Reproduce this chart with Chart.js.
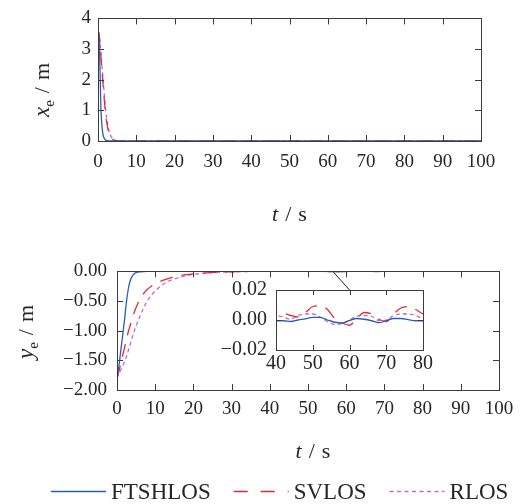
<!DOCTYPE html>
<html>
<head>
<meta charset="utf-8">
<script src="https://cdn.jsdelivr.net/npm/chart.js@4/dist/chart.umd.min.js"></script>
<style>
  html, body { margin: 0; padding: 0; background: #fff; }
  #wrap { position: relative; width: 523px; height: 504px; overflow: hidden; background: #fff; }
  canvas { position: absolute; }
</style>
</head>
<body>
<div id="wrap">
  <canvas id="cx" width="523" height="250" style="left:0;top:0;width:523px;height:250px"></canvas>
  <canvas id="cy" width="523" height="254" style="left:0;top:250px;width:523px;height:254px"></canvas>
  <canvas id="ci" width="240" height="130" style="left:200px;top:255px;width:240px;height:130px"></canvas>
</div>
<script>
// ---- longitudinal error x_e (m) ----
const tX = [0, 0.25, 0.5, 0.75, 1, 1.25, 1.5, 2, 2.5, 3, 3.5, 4, 5, 6, 8, 10, 20, 30, 40, 50, 60, 70, 80, 90, 100];
const xeFTSHLOS = [3.6, 3.4, 2.45, 1.1, 0.55, 0.25, 0.12, 0.03, 0.008, 0.002, 0, 0, 0, 0, 0, 0, 0, 0, 0, 0, 0, 0, 0, 0, 0];
const xeSVLOS   = [3.6, 3.5, 3.2, 2.8, 2.38, 1.95, 1.55, 0.85, 0.45, 0.22, 0.09, 0.035, 0.005, 0, 0, 0, 0, 0, 0, 0, 0, 0, 0, 0, 0];
const xeRLOS    = [3.6, 3.52, 3.28, 2.9, 2.5, 2.15, 1.75, 1.0, 0.55, 0.28, 0.13, 0.06, 0.012, 0.002, 0, 0, 0, 0, 0, 0, 0, 0, 0, 0, 0];

// ---- lateral error y_e (m) ----
const tY = [0, 0.5, 1, 1.5, 2, 2.5, 3, 3.5, 4, 4.5, 5, 6, 7, 8, 9, 10, 12, 14, 16, 18, 20, 22, 25, 28, 31, 34, 37,
            40, 42, 44, 46, 48, 50, 52, 54, 56, 58, 60, 62, 64, 66, 68, 70, 72, 74, 76, 78, 80, 84, 88, 92, 96, 100];
const yeFTSHLOS = [-1.80, -1.60, -1.33, -1.07, -0.80, -0.50, -0.28, -0.15, -0.08, -0.04, -0.02,
                   -0.006, -0.002, -0.001, 0, 0, 0, 0, 0, 0, 0, 0, 0, 0, 0, 0, -0.0003,
                   -0.0005, -0.0005, -0.001, 0, 0.0008, 0.0018, 0.0018, 0, -0.0015, -0.002, -0.0003, 0.001, 0.0005,
                   -0.0005, -0.0018, -0.0005, 0.001, 0.001, 0.0002, -0.0005, -0.0005, -0.0004, 0, 0, 0, 0];
const yeSVLOS   = [-1.80, -1.68, -1.55, -1.41, -1.28, -1.14, -1.01, -0.90, -0.79, -0.69, -0.61,
                   -0.47, -0.37, -0.30, -0.25, -0.21, -0.15, -0.11, -0.078, -0.056, -0.04, -0.03, -0.018, -0.01, -0.005, -0.001, 0.002,
                   0.005, 0.0045, 0.003, 0.002, 0.005, 0.009, 0.0095, 0.007, 0.001, -0.002, -0.0035, 0.001, 0.005,
                   0.004, 0.0005, -0.001, 0.004, 0.008, 0.009, 0.007, 0.004, 0.002, 0.001, 0, 0, 0];
const yeRLOS    = [-1.80, -1.73, -1.66, -1.59, -1.52, -1.43, -1.33, -1.22, -1.11, -1.01, -0.92,
                   -0.76, -0.61, -0.49, -0.40, -0.33, -0.22, -0.15, -0.11, -0.075, -0.05, -0.037, -0.022, -0.013, -0.007, -0.002, 0.001,
                   0.0027, 0.002, 0.0005, 0.003, 0.004, 0.004, 0.002, -0.001, -0.003, -0.0025, 0, 0.0025, 0.003,
                   0.0025, -0.0005, 0, 0.003, 0.004, 0.004, 0.003, 0.001, 0.001, 0, 0, 0, 0];

// zoom window and the point on the main curve it is tied to
const zoomRange = [40, 80];
const calloutT = 56.5;

const SERIF = "'Liberation Serif', 'Times New Roman', Times, serif";
const INK = '#262626';
const FRAME = '#3c3c3c';
Chart.defaults.font.family = SERIF;
Chart.defaults.color = INK;

const STYLE = {
  FTSHLOS: { color: '#2c5cb4', dash: [],      legendDash: [] },
  SVLOS:   { color: '#e52a2f', dash: [13, 9], legendDash: [14, 13] },
  RLOS:    { color: '#b870d0', dash: [4, 3],  legendDash: [4, 3.5] }
};

function pairs(t, v) { return t.map((x, i) => ({ x: x, y: v[i] })); }

function makeDatasets(t, a, b, c) {
  return [['FTSHLOS', a], ['SVLOS', b], ['RLOS', c]].map(([name, v]) => ({
    label: name,
    data: pairs(t, v),
    borderColor: STYLE[name].color,
    borderDash: STYLE[name].dash,
    borderWidth: 1.3,
    pointRadius: 0,
    fill: false,
    cubicInterpolationMode: 'monotone'
  }));
}

function fixed2(v) {
  const s = Math.abs(v).toFixed(2);
  return (v < -1e-9 ? '\u2212' : '') + s;
}

function axis(min, max, step, size, pad, fit, fmt) {
  return {
    type: 'linear', min: min, max: max,
    grid: { display: false, drawTicks: false },
    border: { display: false },
    ticks: { stepSize: step, font: { size: size }, color: INK, padding: pad,
             maxRotation: 0, autoSkip: false, callback: fmt || (v => String(v)) },
    afterFit: fit
  };
}

// frame box with inward ticks on all four sides
const framePlugin = {
  id: 'frame',
  afterDatasetsDraw(chart, args, opts) {
    const { ctx, chartArea: a, scales } = chart;
    const L = opts.len || 6;
    ctx.save();
    ctx.strokeStyle = FRAME;
    ctx.lineWidth = 1;
    ctx.setLineDash([]);
    ctx.beginPath();
    scales.x.ticks.forEach(t => {
      const px = Math.round(scales.x.getPixelForValue(t.value)) + 0.5;
      ctx.moveTo(px, a.bottom); ctx.lineTo(px, a.bottom - L);
      ctx.moveTo(px, a.top); ctx.lineTo(px, a.top + L);
    });
    scales.y.ticks.forEach(t => {
      const py = Math.round(scales.y.getPixelForValue(t.value)) + 0.5;
      ctx.moveTo(a.left, py); ctx.lineTo(a.left + L, py);
      ctx.moveTo(a.right, py); ctx.lineTo(a.right - L, py);
    });
    ctx.stroke();
    ctx.strokeRect(Math.round(a.left) + 0.5, Math.round(a.top) + 0.5,
                   Math.round(a.right - a.left), Math.round(a.bottom - a.top));
    ctx.restore();
  }
};

function richText(ctx, parts, x, y, rotate) {
  ctx.save();
  ctx.translate(x, y);
  if (rotate) ctx.rotate(-Math.PI / 2);
  ctx.textBaseline = 'alphabetic';
  ctx.textAlign = 'left';
  ctx.fillStyle = INK;
  let w = 0;
  parts.forEach(p => {
    ctx.font = (p.italic ? 'italic ' : '') + p.size + 'px ' + SERIF;
    p.w = ctx.measureText(p.text).width;
    w += p.w + (p.gap || 0);
  });
  let cx = -w / 2;
  parts.forEach(p => {
    ctx.font = (p.italic ? 'italic ' : '') + p.size + 'px ' + SERIF;
    ctx.fillText(p.text, cx, p.dy || 0);
    cx += p.w + (p.gap || 0);
  });
  ctx.restore();
}

// axis titles with italic symbols and subscripts
const titlesPlugin = {
  id: 'titles',
  afterDraw(chart, args, opts) {
    const { ctx, chartArea: a } = chart;
    if (opts.x) richText(ctx, opts.x.parts, (a.left + a.right) / 2 + (opts.x.dx || 0), opts.x.baseline, false);
    if (opts.y) richText(ctx, opts.y.parts, opts.y.baseline, opts.y.center, true);
  }
};

// horizontal legend with line samples
const legendPlugin = {
  id: 'lineLegend',
  afterDraw(chart, args, opts) {
    if (!opts.show) return;
    const ctx = chart.ctx;
    let x = opts.left;
    ctx.save();
    ctx.font = opts.size + 'px ' + SERIF;
    ctx.textBaseline = 'alphabetic';
    ctx.fillStyle = INK;
    chart.data.datasets.forEach(ds => {
      ctx.strokeStyle = ds.borderColor;
      ctx.lineWidth = 1.3;
      ctx.setLineDash(STYLE[ds.label].legendDash);
      ctx.beginPath();
      ctx.moveTo(x, opts.lineY + 0.5);
      ctx.lineTo(x + opts.sample, opts.lineY + 0.5);
      ctx.stroke();
      ctx.setLineDash([]);
      x += opts.sample + opts.textGap;
      ctx.fillText(ds.label, x, opts.textBaseline);
      x += ctx.measureText(ds.label).width + opts.itemGap;
    });
    ctx.restore();
  }
};

const tTitle = () => [
  { text: 't', italic: true, size: 22, gap: 7 },
  { text: '/', size: 22, gap: 7 },
  { text: 's', size: 22 }
];
const errTitle = (sym) => [
  { text: sym, italic: true, size: 23 },
  { text: 'e', size: 15, dy: 5, gap: 7 },
  { text: '/', size: 22, gap: 7 },
  { text: 'm', size: 22 }
];

const common = { responsive: false, animation: false, devicePixelRatio: 1, events: [] };

// top panel: x_e
new Chart(document.getElementById('cx'), {
  type: 'line',
  data: { datasets: makeDatasets(tX, xeFTSHLOS, xeSVLOS, xeRLOS) },
  plugins: [framePlugin, titlesPlugin, legendPlugin],
  options: Object.assign({}, common, {
    layout: { padding: { left: 0, right: 42, top: 15, bottom: 0 } },
    scales: {
      x: axis(0, 100, 10, 19, 10, s => { s.height = 109; }),
      y: axis(0, 4, 1, 19, 7, s => { s.width = 98; })
    },
    plugins: {
      legend: { display: false }, tooltip: { enabled: false },
      frame: { len: 6 },
      titles: { x: { parts: tTitle(), baseline: 221 }, y: { parts: errTitle('x'), baseline: 49, center: 90 } },
      lineLegend: { show: false }
    }
  })
});

// bottom panel: y_e
const chartY = new Chart(document.getElementById('cy'), {
  type: 'line',
  data: { datasets: makeDatasets(tY, yeFTSHLOS, yeSVLOS, yeRLOS) },
  plugins: [framePlugin, titlesPlugin, legendPlugin],
  options: Object.assign({}, common, {
    layout: { padding: { left: 0, right: 24, top: 14, bottom: 0 } },
    scales: {
      x: axis(0, 100, 10, 19, 8, s => { s.height = 114; }),
      y: axis(-2, 0, 0.5, 19, 10, s => { s.width = 117; }, fixed2)
    },
    plugins: {
      legend: { display: false }, tooltip: { enabled: false },
      frame: { len: 6 },
      titles: { x: { parts: tTitle(), baseline: 208, dx: 5 }, y: { parts: errTitle('y'), baseline: 33, center: 82 } },
      lineLegend: { show: true, left: 51, sample: 55, textGap: 5, itemGap: 23, size: 23, lineY: 241, textBaseline: 249 }
    }
  })
});

// inset: zoom on the steady-state part of y_e
const calloutPlugin = {
  id: 'callout',
  afterDraw(chart) {
    const ctx = chart.ctx;
    const main = chartY.canvas.getBoundingClientRect();
    const own = chart.canvas.getBoundingClientRect();
    const sx = chartY.scales.x.getPixelForValue(calloutT) + main.left - own.left;
    const sy = chartY.scales.y.getPixelForValue(0) + main.top - own.top;
    const ex = chart.scales.x.getPixelForValue((zoomRange[0] + zoomRange[1]) / 2);
    const ey = chart.chartArea.top;
    ctx.save();
    ctx.strokeStyle = '#222';
    ctx.lineWidth = 1;
    ctx.beginPath();
    ctx.moveTo(sx, sy);
    ctx.lineTo(ex, ey);
    ctx.stroke();
    ctx.restore();
  }
};

new Chart(document.getElementById('ci'), {
  type: 'line',
  data: { datasets: makeDatasets(tY, yeFTSHLOS, yeSVLOS, yeRLOS) },
  plugins: [framePlugin, calloutPlugin],
  options: Object.assign({}, common, {
    layout: { padding: { left: 0, right: 17, top: 35, bottom: 0 } },
    scales: {
      x: axis(zoomRange[0], zoomRange[1], 10, 20, 2, s => { s.height = 35; }),
      y: axis(-0.02, 0.02, 0.02, 20, 9, s => { s.width = 76; }, fixed2)
    },
    plugins: {
      legend: { display: false }, tooltip: { enabled: false },
      frame: { len: 5 }
    }
  })
});
</script>
</body>
</html>
